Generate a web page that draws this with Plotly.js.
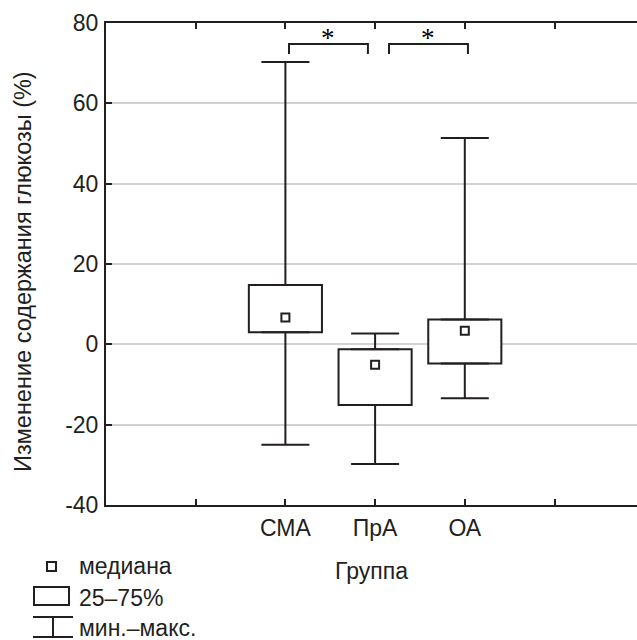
<!DOCTYPE html>
<html>
<head>
<meta charset="utf-8">
<script src="https://cdn.plot.ly/plotly-3.0.1.min.js"></script>
<style>html,body{margin:0;padding:0;background:#fff;}#chart{width:637px;height:640px;}</style>
</head>
<body>
<div id="chart"></div>
<script>
// ---- data ----
const groups = ['СМА', 'ПрА', 'ОА'];
const groupPos = [2, 3, 4];
const tickPos = [1, 2, 3, 4, 5];
const tickText = ['', 'СМА', 'ПрА', 'ОА', ''];
const yTickVals = [-40, -20, 0, 20, 40, 60, 80];
const yTickText = ['-40', '-20', '0', '20', '40', '60', '80'];
const minVals = [-25.0, -29.8, -13.4];
const q1Vals = [3.0, -15.1, -4.8];
const medianVals = [6.7, -5.1, 3.4];
const q3Vals = [14.8, -1.2, 6.2];
const maxVals = [70.3, 2.7, 51.4];
const sigFrom = [2.04, 3.155];
const sigTo = [2.92, 4.035];
const sigTop = 74.8;
const sigLeg = 72.3;
const sigStarY = 76.2;
const yTitle = 'Изменение содержания глюкозы (%)';
const xTitle = 'Группа';
const legendLabels = ['медиана', '25–75%', 'мин.–макс.'];

// ---- layout geometry ----
const W = 637, H = 640;
const ml = 106, mt = 23, mb = 135, mr = 0;
const pw = W - ml - mr, ph = H - mt - mb;
const dark = '#231f20';
const font = 'Liberation Sans';
const px = x => (x - ml) / pw;
const py = y => (H - mb - y) / ph;

const traces = [];
traces.push({
  type: 'bar', x: groupPos, base: q1Vals,
  y: q3Vals.map((v, i) => v - q1Vals[i]),
  width: 0.815,
  marker: {color: '#ffffff', line: {color: dark, width: 2}},
  hoverinfo: 'skip', showlegend: false
});
traces.push({
  type: 'scatter', mode: 'markers', x: groupPos, y: q3Vals,
  marker: {size: 1, color: 'rgba(0,0,0,0)'},
  error_y: {type: 'data', symmetric: false,
    array: maxVals.map((v, i) => v - q3Vals[i]),
    arrayminus: q3Vals.map(() => 0),
    color: dark, thickness: 2, width: 24},
  hoverinfo: 'skip', showlegend: false
});
traces.push({
  type: 'scatter', mode: 'markers', x: groupPos, y: q1Vals,
  marker: {size: 1, color: 'rgba(0,0,0,0)'},
  error_y: {type: 'data', symmetric: false,
    array: q1Vals.map(() => 0),
    arrayminus: q1Vals.map((v, i) => v - minVals[i]),
    color: dark, thickness: 2, width: 24},
  hoverinfo: 'skip', showlegend: false
});
traces.push({
  type: 'scatter', mode: 'markers', x: groupPos, y: medianVals,
  marker: {symbol: 'square', size: 8, color: '#ffffff', line: {color: dark, width: 2}},
  hoverinfo: 'skip', showlegend: false
});
for (let i = 0; i < sigFrom.length; i++) {
  traces.push({
    type: 'scatter', mode: 'lines',
    x: [sigFrom[i], sigFrom[i], sigTo[i], sigTo[i]],
    y: [sigLeg, sigTop, sigTop, sigLeg],
    line: {color: dark, width: 2},
    hoverinfo: 'skip', showlegend: false, cliponaxis: false
  });
}

const annotations = [];
for (let i = 0; i < sigFrom.length; i++) {
  annotations.push({
    x: (sigFrom[i] + sigTo[i]) / 2, y: sigStarY, xref: 'x', yref: 'y',
    text: '*', showarrow: false, xanchor: 'center', yanchor: 'middle',
    font: {family: 'Liberation Serif', size: 27, color: '#000000'}
  });
}
const legY = [566, 598, 628];
legendLabels.forEach((t, i) => {
  annotations.push({
    x: px(77), y: py(legY[i]), xref: 'paper', yref: 'paper',
    text: t, showarrow: false, xanchor: 'left', yanchor: 'middle',
    font: {family: font, size: 23, color: dark}
  });
});
// y-axis title
annotations.push({
  x: px(23), y: py(272), xref: 'paper', yref: 'paper',
  text: yTitle, textangle: -90, showarrow: false,
  xanchor: 'center', yanchor: 'middle',
  font: {family: font, size: 23.5, color: dark}
});

const shapes = [
  {type: 'rect', xref: 'paper', yref: 'paper', x0: px(47), x1: px(56), y0: py(562), y1: py(571), line: {color: dark, width: 2}, fillcolor: '#fff'},
  {type: 'rect', xref: 'paper', yref: 'paper', x0: px(34), x1: px(69), y0: py(587), y1: py(605), line: {color: dark, width: 2}, fillcolor: '#fff'},
  {type: 'line', xref: 'paper', yref: 'paper', x0: px(33), x1: px(73), y0: py(617), y1: py(617), line: {color: dark, width: 2}},
  {type: 'line', xref: 'paper', yref: 'paper', x0: px(53), x1: px(53), y0: py(617), y1: py(637), line: {color: dark, width: 2}},
  {type: 'line', xref: 'paper', yref: 'paper', x0: px(33), x1: px(73), y0: py(637), y1: py(637), line: {color: dark, width: 2}}
];

const layout = {
  width: W, height: H,
  margin: {l: ml, r: mr, t: mt, b: mb, pad: 0},
  paper_bgcolor: '#ffffff', plot_bgcolor: '#ffffff',
  font: {family: font, size: 23, color: dark},
  showlegend: false,
  xaxis: {
    range: [0, pw / 89.7], tickmode: 'array', tickvals: tickPos, ticktext: tickText,
    ticks: 'inside', ticklen: 6, tickwidth: 2, tickcolor: dark,
    showline: true, linewidth: 2, linecolor: dark, mirror: 'ticks',
    showgrid: false, zeroline: false, fixedrange: true,
    ticklabelstandoff: 1,
    tickfont: {family: font, size: 23, color: dark},
    title: {text: xTitle, standoff: 23, font: {family: font, size: 23, color: dark}}
  },
  yaxis: {
    range: [-40, 80], tickmode: 'array', tickvals: yTickVals, ticktext: yTickText,
    ticks: 'inside', ticklen: 6, tickwidth: 2, tickcolor: dark,
    showline: true, linewidth: 2, linecolor: dark, mirror: false,
    showgrid: true, gridcolor: '#d2d2d2', gridwidth: 2, zeroline: false,
    fixedrange: true, ticklabelstandoff: 1,
    tickfont: {family: font, size: 23, color: dark}
  },
  annotations: annotations,
  shapes: shapes
};

Plotly.newPlot('chart', traces, layout, {staticPlot: true, displayModeBar: false});
</script>
</body>
</html>
